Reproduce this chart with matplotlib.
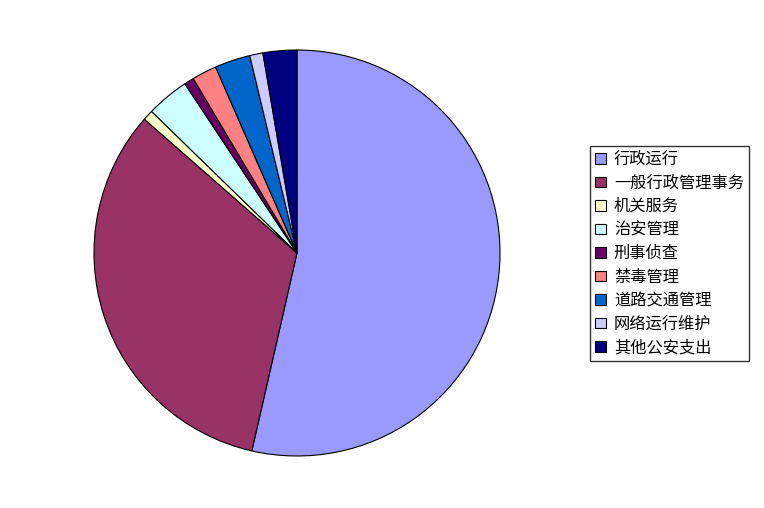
import matplotlib
matplotlib.use("Agg")
import matplotlib.pyplot as plt
from matplotlib.patches import Rectangle

plt.rcParams['font.family'] = ['Noto Sans CJK SC', 'DejaVu Sans']

# Data (shares in percent)
labels = ["行政运行", "一般行政管理事务", "机关服务", "治安管理", "刑事侦查",
          "禁毒管理", "道路交通管理", "网络运行维护", "其他公安支出"]
values = [53.6, 32.9, 0.83, 3.4, 0.78, 1.97, 2.83, 1.05, 2.69]
colors = ["#9999FF", "#993366", "#FFFFCC", "#CCFFFF", "#660066",
          "#FF8080", "#0066CC", "#CCCCFF", "#000080"]

fig = plt.figure(figsize=(7.64, 5.08), dpi=100)
fig.patch.set_facecolor("white")

# pie centre ~ (297, 253) px, radius ~203 px
W, H = 764, 508
cx, cy, r = 297, 253, 203
ax = fig.add_axes([(cx - r) / W, (H - cy - r) / H, 2 * r / W, 2 * r / H])
wedges, _ = ax.pie(values, colors=colors, startangle=90, counterclock=False,
                   radius=1.0,
                   wedgeprops=dict(edgecolor="black", linewidth=0.8))
ax.set_xlim(-1.0, 1.0)
ax.set_ylim(-1.0, 1.0)
ax.set_aspect("equal")
ax.axis("off")

handles = [Rectangle((0, 0), 1, 1, facecolor=c, edgecolor="black", linewidth=0.8)
           for c in colors]
leg = fig.legend(handles, labels, loc="upper left",
                 bbox_to_anchor=(590 / W, 1 - 146 / H),
                 fontsize=11.7, frameon=True, fancybox=False, shadow=False,
                 handlelength=0.65, handleheight=0.65, handletextpad=0.5,
                 labelspacing=0.4, borderpad=0.32, borderaxespad=0.0)
leg.get_frame().set_edgecolor("black")
leg.get_frame().set_linewidth(1.0)

fig.savefig("out.png", dpi=100, facecolor="white")
